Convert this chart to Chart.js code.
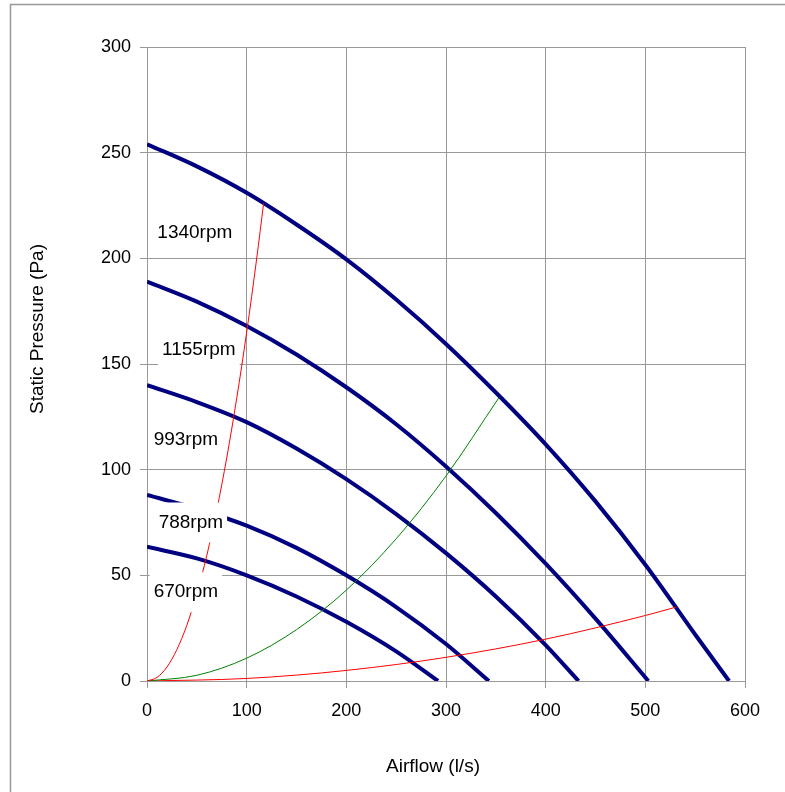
<!DOCTYPE html>
<html lang="en">
<head>
    <meta charset="UTF-8">
    <title>Fan Curves</title>
    <style>
        body {
            margin: 0;
            background: #ffffff;
            overflow: hidden;
        }
        canvas {
            display: block;
        }
    </style>
</head>
<body>
<canvas id="fanChart" width="785" height="792"></canvas>

<script src="https://cdn.jsdelivr.net/npm/chart.js"></script>
<script>
    // Fan curves (airflow l/s, static pressure Pa)
    const q1340 = [0, 50, 100, 150, 200, 250, 300, 350, 400, 450, 500, 550, 584];
    const p1340 = [254, 243.5, 231, 216, 199.5, 180.5, 159.5, 136.5, 112, 85, 55, 22, 0];

    const q1155 = [0, 50, 100, 150, 200, 250, 300, 350, 400, 450, 503];
    const p1155 = [189, 179.5, 168, 154.5, 139, 121.5, 101.5, 79.5, 55.5, 29.5, 0];

    const q993 = [0, 50, 100, 150, 200, 250, 300, 350, 400, 433];
    const p993 = [140, 132, 122.5, 110, 95.5, 79, 60.5, 40, 17, 0];

    const q788 = [0, 50, 100, 150, 200, 250, 300, 343];
    const p788 = [88, 81.5, 73.5, 63, 50, 35, 17.5, 0];

    const q670 = [0, 50, 100, 150, 200, 250, 292];
    const p670 = [63.5, 58, 50, 40, 28, 14, 0];

    // System curves
    const qSysHigh = [0, 10, 20, 30, 40, 50, 60, 70, 80, 90, 100, 110, 117];
    const pSysHigh = [0, 1.7, 6.6, 14.9, 26.4, 41.3, 59.4, 80.9, 105.6, 133.7, 165, 199.7, 226];

    const qSysMid = [0, 50, 100, 150, 200, 250, 300, 353];
    const pSysMid = [0, 2.7, 10.8, 24.3, 43, 67.3, 97, 134];

    const qSysLow = [0, 100, 200, 300, 400, 500, 531];
    const pSysLow = [0, 1.2, 5, 11.2, 19.8, 31, 35];

    const speedLabels = ['1340rpm', '1155rpm', '993rpm', '788rpm', '670rpm'];

    const xTicks = [0, 100, 200, 300, 400, 500, 600];
    const yTicks = [0, 50, 100, 150, 200, 250, 300];

    function toPoints(xs, ys) {
        return xs.map((x, i) => ({ x: x, y: ys[i] }));
    }

    function fanSet(label, xs, ys) {
        return {
            label: label,
            data: toPoints(xs, ys),
            borderColor: '#000080',
            borderWidth: 4,
            showLine: true,
            pointRadius: 0,
            cubicInterpolationMode: 'monotone'
        };
    }

    function sysSet(label, xs, ys, color) {
        return {
            label: label,
            data: toPoints(xs, ys),
            borderColor: color,
            borderWidth: 1,
            showLine: true,
            pointRadius: 0,
            cubicInterpolationMode: 'monotone'
        };
    }

    // where each rpm label sits, in data units
    const labelSpots = [
        { x: 48, y: 212 },
        { x: 52, y: 156.5 },
        { x: 39, y: 114 },
        { x: 44, y: 75 },
        { x: 39, y: 42 }
    ];

    const frameAndText = {
        id: 'frameAndText',
        beforeDraw(chart) {
            const ctx = chart.ctx;
            ctx.save();
            ctx.strokeStyle = '#999999';
            ctx.lineWidth = 1.5;
            ctx.strokeRect(10.5, 4.5, 900, 900);
            ctx.restore();
        },
        afterDatasetsDraw(chart) {
            const ctx = chart.ctx;
            const xs = chart.scales.x;
            const ys = chart.scales.y;
            ctx.save();
            ctx.font = '19px "Liberation Sans", Arial, sans-serif';
            ctx.textBaseline = 'middle';
            ctx.textAlign = 'center';
            speedLabels.forEach((txt, i) => {
                const px = xs.getPixelForValue(labelSpots[i].x);
                const py = ys.getPixelForValue(labelSpots[i].y);
                const w = ctx.measureText(txt).width + 8;
                ctx.fillStyle = '#ffffff';
                ctx.fillRect(px - w / 2, py - 20, w, 40);
                ctx.fillStyle = '#000000';
                ctx.fillText(txt, px, py);
            });

            // axis titles
            ctx.font = '19px "Liberation Sans", Arial, sans-serif';
            ctx.fillText('Airflow (l/s)', 433, 767);
            ctx.translate(38, 329);
            ctx.rotate(-Math.PI / 2);
            ctx.fillText('Static Pressure (Pa)', 0, 0);
            ctx.restore();
        }
    };

    Chart.defaults.font.family = '"Liberation Sans", Arial, sans-serif';
    Chart.defaults.color = '#000000';

    const ctx = document.getElementById('fanChart').getContext('2d');
    const fanChart = new Chart(ctx, {
        type: 'scatter',
        data: {
            datasets: [
                sysSet('System high', qSysHigh, pSysHigh, '#ff0000'),
                sysSet('System mid', qSysMid, pSysMid, '#008000'),
                sysSet('System low', qSysLow, pSysLow, '#ff0000'),
                fanSet('1340rpm', q1340, p1340),
                fanSet('1155rpm', q1155, p1155),
                fanSet('993rpm', q993, p993),
                fanSet('788rpm', q788, p788),
                fanSet('670rpm', q670, p670)
            ]
        },
        options: {
            responsive: false,
            animation: false,
            layout: {
                padding: { left: 0, top: 47, right: 40, bottom: 0 }
            },
            plugins: {
                legend: { display: false },
                tooltip: { enabled: false }
            },
            scales: {
                x: {
                    type: 'linear',
                    min: 0,
                    max: 600,
                    afterBuildTicks: s => { s.ticks = xTicks.map(v => ({ value: v })); },
                    afterFit: s => { s.height = 111; },
                    grid: { color: '#999999', lineWidth: 1, tickLength: 7 },
                    border: { color: '#999999' },
                    ticks: { font: { size: 18 }, padding: 12, maxRotation: 0 }
                },
                y: {
                    type: 'linear',
                    min: 0,
                    max: 300,
                    afterBuildTicks: s => { s.ticks = yTicks.map(v => ({ value: v })); },
                    afterFit: s => { s.width = 147; },
                    grid: { color: '#999999', lineWidth: 1, tickLength: 7 },
                    border: { color: '#999999' },
                    ticks: { font: { size: 18 }, padding: 9 }
                }
            }
        },
        plugins: [frameAndText]
    });
</script>
</body>
</html>
